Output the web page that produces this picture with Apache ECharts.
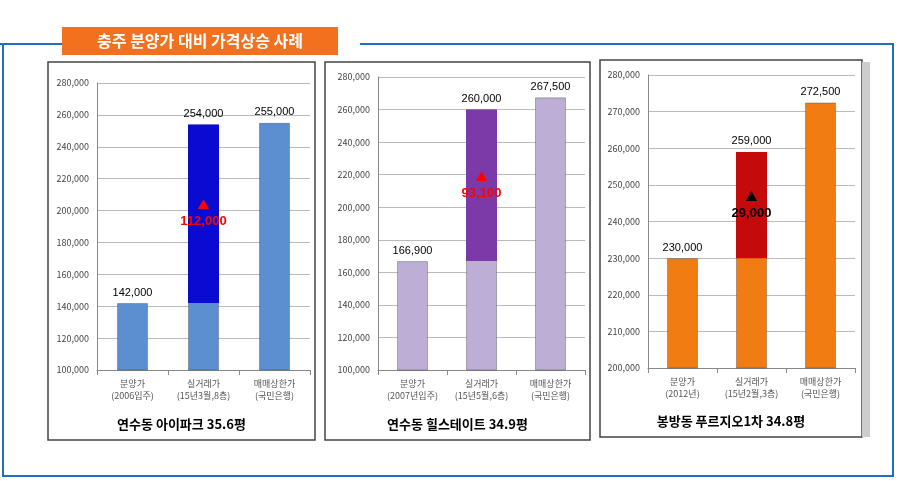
<!DOCTYPE html>
<html><head><meta charset="utf-8">
<script src="https://cdn.jsdelivr.net/npm/echarts@6/dist/echarts.min.js"></script>
<style>body{margin:0;background:#fff}#main{width:900px;height:481px}</style>
</head><body><div id="main"></div>
<script>
const titles = ['연수동 아이파크 35.6평', '연수동 힐스테이트 34.9평', '봉방동 푸르지오1차 34.8평'];
const cats = [
  ['분양가\n(2006입주)', '실거래가\n(15년3월,8층)', '매매상한가\n(국민은행)'],
  ['분양가\n(2007년입주)', '실거래가\n(15년5월,6층)', '매매상한가\n(국민은행)'],
  ['분양가\n(2012년)', '실거래가\n(15년2월,3층)', '매매상한가\n(국민은행)']
];
const prices = [[142000, 254000, 255000], [166900, 260000, 267500], [230000, 259000, 272500]];
const rises = [112000, 93100, 29000];
const axisMin = [100000, 100000, 200000];
const axisMax = [280000, 280000, 280000];
const axisStep = [20000, 20000, 10000];

const barColor = ['#5b8fd0', '#bcaed4', '#f07c12'];
const riseColor = ['#0a0ad2', '#7b3aa8', '#c40a0a'];
const riseText = ['#ff0000', '#ff0000', '#000000'];
const grids = [
  { left: 97, top: 83, width: 213, height: 287 },
  { left: 378, top: 77, width: 207, height: 293 },
  { left: 648, top: 75, width: 207, height: 293 }
];
const boxes = [[48, 62, 267, 378], [325, 62, 265, 378], [600, 60, 262, 377]];

const fmt = v => v.toLocaleString('en-US');
const series = [];
prices.forEach((p, i) => {
  series.push({
    type: 'bar', xAxisIndex: i, yAxisIndex: i, barWidth: 31, data: p,
    itemStyle: { color: barColor[i], borderColor: 'rgba(0,0,0,0.25)', borderWidth: 1 },
    label: { show: true, position: 'top', color: '#000', fontSize: 11, fontFamily: 'Arial, "Liberation Sans"', formatter: d => fmt(d.value) }
  });
  series.push({
    type: 'bar', xAxisIndex: i, yAxisIndex: i, barWidth: 31, stack: 's' + i, barGap: '-100%',
    data: [0, p[0], 0], itemStyle: { color: 'transparent' }, silent: true
  });
  series.push({
    type: 'bar', xAxisIndex: i, yAxisIndex: i, barWidth: 31, stack: 's' + i,
    data: [0, rises[i], 0], itemStyle: { color: riseColor[i] },
    label: {
      show: true, position: 'inside',
      formatter: d => d.value ? '{t|▲}\n{v|' + fmt(d.value) + '}' : '',
      rich: {
        t: { color: riseText[i], fontSize: 12, lineHeight: 16 },
        v: { color: riseText[i], fontSize: 13, fontWeight: 'bold', lineHeight: 16, fontFamily: 'Arial, "Liberation Sans"' }
      }
    }
  });
});

const graphic = [
  { type: 'polyline', shape: { points: [[0, 44], [62, 44]] }, style: { stroke: '#1f6fc0', lineWidth: 2 } },
  { type: 'polyline', shape: { points: [[360, 44], [893, 44], [893, 476], [3, 476], [3, 44]] }, style: { stroke: '#1f6fc0', lineWidth: 2, fill: null } },
  { type: 'rect', shape: { x: 62, y: 27, width: 276, height: 28 }, style: { fill: '#f2701e' } },
  { type: 'text', x: 200, y: 41, style: { text: '충주 분양가 대비 가격상승 사례', fill: '#fff', font: 'bold 16px "Noto Sans CJK KR"', align: 'center', verticalAlign: 'middle' } }
];
boxes.forEach((b, i) => {
  graphic.push({ type: 'rect', z: -1, shape: { x: b[0], y: b[1], width: b[2], height: b[3] }, style: { fill: '#fff', stroke: '#444', lineWidth: 1.5 } });
  graphic.push({ type: 'text', x: b[0] + b[2] / 2, y: b[1] + b[3] - 16, style: { text: titles[i], fill: '#000', font: 'bold 13px "Noto Sans CJK KR"', align: 'center', verticalAlign: 'middle' } });
});
graphic.push({ type: 'rect', z: -1, shape: { x: 862, y: 62, width: 8, height: 375 }, style: { fill: '#ccc' } });

const chart = echarts.init(document.getElementById('main'));
chart.setOption({
  animation: false,
  textStyle: { fontFamily: '"Noto Sans CJK KR", sans-serif' },
  grid: grids,
  graphic: graphic,
  xAxis: cats.map((c, i) => ({
    type: 'category', gridIndex: i, data: c,
    axisLine: { lineStyle: { color: '#888' } }, axisTick: { show: true },
    axisLabel: { color: '#555', fontSize: 9, lineHeight: 12, interval: 0 }
  })),
  yAxis: cats.map((c, i) => ({
    type: 'value', gridIndex: i, min: axisMin[i], max: axisMax[i], interval: axisStep[i],
    axisLine: { show: true, lineStyle: { color: '#888' } },
    splitLine: { lineStyle: { color: '#bbb' } },
    axisLabel: { color: '#444', fontSize: 9, formatter: v => fmt(v) }
  })),
  series: series
});
</script></body></html>
